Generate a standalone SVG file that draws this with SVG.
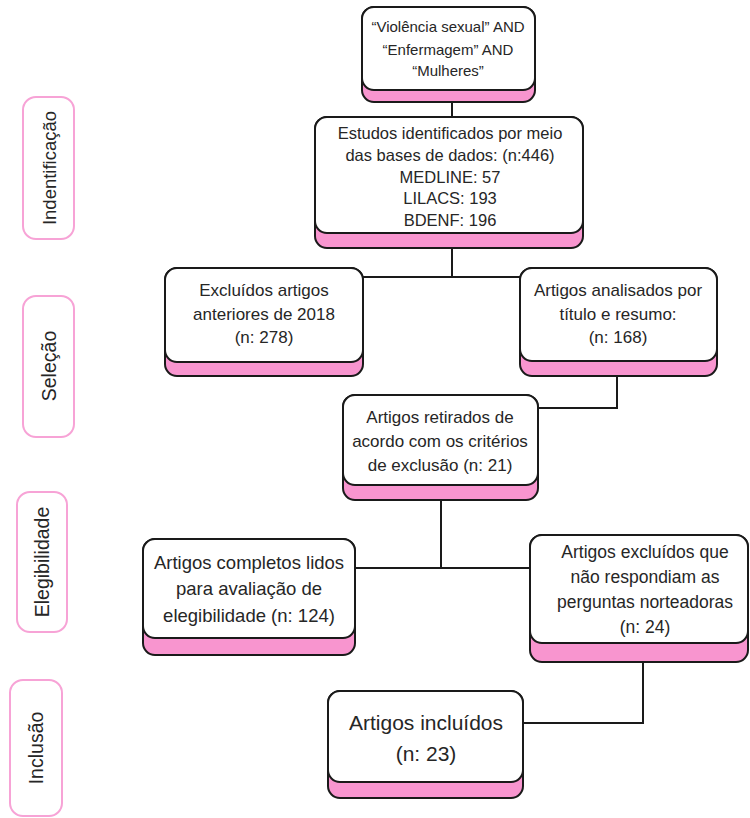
<svg xmlns="http://www.w3.org/2000/svg" width="750" height="818" viewBox="0 0 750 818">
<style>
.sh{fill:#f895cf;stroke:#1a1a1a;stroke-width:2}
.bx{fill:#fff;stroke:#1a1a1a;stroke-width:2}
.lb{fill:#fff;stroke:#f7a3d6;stroke-width:2}
.t{font-family:"Liberation Sans",Arial,sans-serif;fill:#262626;text-anchor:middle;dominant-baseline:central}
.c{fill:none;stroke:#1a1a1a;stroke-width:2}
</style>
<rect width="750" height="818" fill="#fff"/>
<g id="connectors">
<path class="c" d="M452,102V117"/>
<path class="c" d="M452,248V277M363,277H520"/>
<path class="c" d="M617,376V408H538"/>
<path class="c" d="M441,500V568M355,568H530"/>
<path class="c" d="M643,662V723H523"/>
</g>
<g id="lbl-identificacao"><rect class="lb" x="23" y="97" width="51" height="142" rx="13"/><text class="t" font-size="18.5" transform="translate(49,168) rotate(-90)">Indentificação</text></g>
<g id="lbl-selecao"><rect class="lb" x="23" y="296" width="51" height="141" rx="13"/><text class="t" font-size="19.5" transform="translate(49,366) rotate(-90)">Seleção</text></g>
<g id="lbl-elegibilidade"><rect class="lb" x="17" y="492" width="50" height="140" rx="13"/><text class="t" font-size="19.5" transform="translate(42,562) rotate(-90)">Elegibilidade</text></g>
<g id="lbl-inclusao"><rect class="lb" x="10" y="680" width="52" height="136" rx="13"/><text class="t" font-size="19.5" transform="translate(36,748) rotate(-90)">Inclusão</text></g>
<g id="n-query">
<rect class="sh" x="362" y="7" width="173" height="95" rx="12"/>
<rect class="bx" x="362" y="7" width="173" height="83" rx="12"/>
<text class="t" font-size="15" x="448" y="26">“Violência sexual” AND</text>
<text class="t" font-size="15" x="448" y="49">“Enfermagem” AND</text>
<text class="t" font-size="15" x="448" y="70">“Mulheres”</text>
</g>
<g id="n-estudos">
<rect class="sh" x="315" y="117" width="268" height="131" rx="12"/>
<rect class="bx" x="315" y="117" width="268" height="116" rx="12"/>
<text class="t" font-size="16.5" x="450" y="133">Estudos identificados por meio</text>
<text class="t" font-size="16.5" x="450" y="155">das bases de dados: (n:446)</text>
<text class="t" font-size="16.5" x="450" y="177">MEDLINE: 57</text>
<text class="t" font-size="16.5" x="450" y="198">LILACS: 193</text>
<text class="t" font-size="16.5" x="450" y="220">BDENF: 196</text>
</g>
<g id="n-excluidos">
<rect class="sh" x="165" y="268" width="198" height="108" rx="12"/>
<rect class="bx" x="165" y="268" width="198" height="94" rx="12"/>
<text class="t" font-size="17" x="264" y="290">Excluídos artigos</text>
<text class="t" font-size="17" x="264" y="314">anteriores de 2018</text>
<text class="t" font-size="17" x="264" y="337">(n: 278)</text>
</g>
<g id="n-analisados">
<rect class="sh" x="520" y="268" width="197" height="108" rx="12"/>
<rect class="bx" x="520" y="268" width="197" height="93" rx="12"/>
<text class="t" font-size="17" x="618" y="290">Artigos analisados por</text>
<text class="t" font-size="17" x="618" y="314">título e resumo:</text>
<text class="t" font-size="17" x="618" y="337">(n: 168)</text>
</g>
<g id="n-retirados">
<rect class="sh" x="343" y="395" width="195" height="105" rx="12"/>
<rect class="bx" x="343" y="395" width="195" height="90" rx="12"/>
<text class="t" font-size="17" x="440" y="417">Artigos retirados de</text>
<text class="t" font-size="17" x="440" y="441">acordo com os critérios</text>
<text class="t" font-size="17" x="440" y="465">de exclusão (n: 21)</text>
</g>
<g id="n-completos">
<rect class="sh" x="143" y="539" width="212" height="116" rx="12"/>
<rect class="bx" x="143" y="539" width="212" height="99" rx="12"/>
<text class="t" font-size="18.5" x="249" y="562">Artigos completos lidos</text>
<text class="t" font-size="18.5" x="249" y="588">para avaliação de</text>
<text class="t" font-size="18.5" x="249" y="615">elegibilidade (n: 124)</text>
</g>
<g id="n-excluidos2">
<rect class="sh" x="530" y="535" width="218" height="127" rx="12"/>
<rect class="bx" x="530" y="535" width="218" height="108" rx="12"/>
<text class="t" font-size="17.5" x="645" y="552">Artigos excluídos que</text>
<text class="t" font-size="17.5" x="645" y="577">não respondiam as</text>
<text class="t" font-size="17.5" x="645" y="602">perguntas norteadoras</text>
<text class="t" font-size="17.5" x="645" y="627">(n: 24)</text>
</g>
<g id="n-incluidos">
<rect class="sh" x="328" y="691" width="195" height="107" rx="12"/>
<rect class="bx" x="328" y="691" width="195" height="91" rx="12"/>
<text class="t" font-size="21" x="426" y="722">Artigos incluídos</text>
<text class="t" font-size="21" x="426" y="753">(n: 23)</text>
</g>
</svg>
